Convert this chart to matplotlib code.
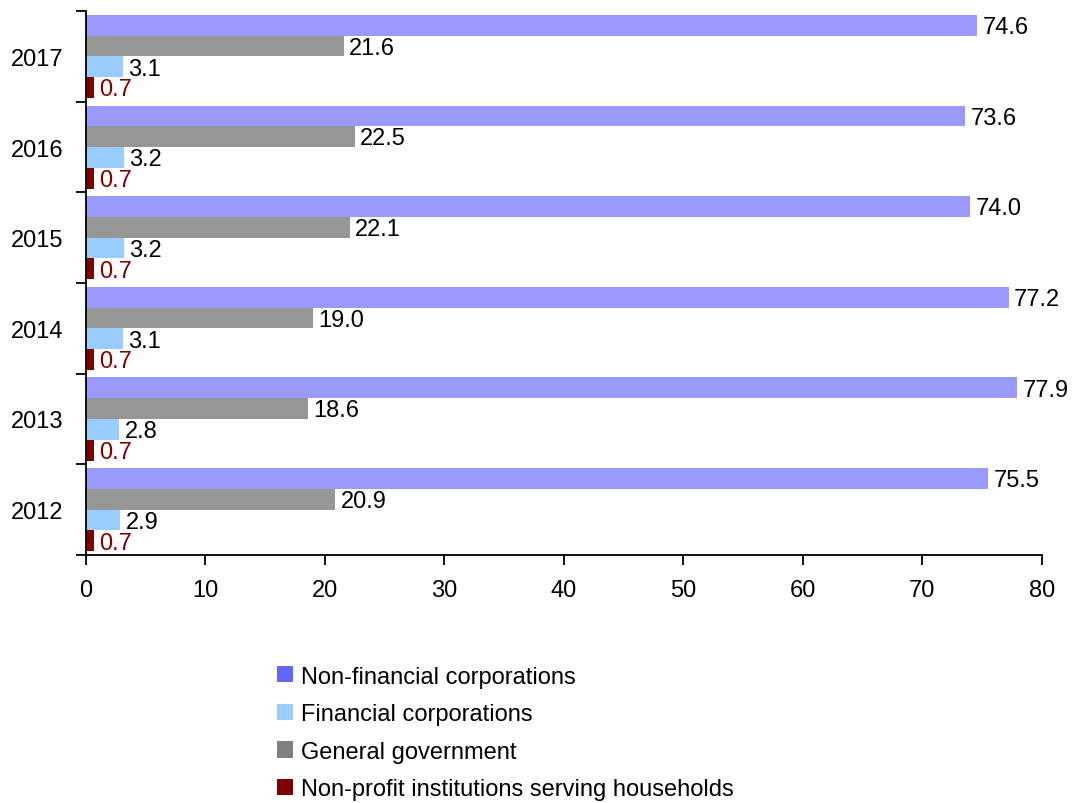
import matplotlib
matplotlib.use("Agg")
import matplotlib.pyplot as plt
from matplotlib.patches import Patch
import numpy as np

plt.rcParams['font.family'] = ['Liberation Sans', 'DejaVu Sans']

years = ["2012", "2013", "2014", "2015", "2016", "2017"]
series_names = ["Non-financial corporations", "General government",
                "Financial corporations", "Non-profit institutions serving households"]
nonfin = [75.5, 77.9, 77.2, 74.0, 73.6, 74.6]
gengov = [20.9, 18.6, 19.0, 22.1, 22.5, 21.6]
fincorp = [2.9, 2.8, 3.1, 3.2, 3.2, 3.1]
npish = [0.7, 0.7, 0.7, 0.7, 0.7, 0.7]

bar_colors = ["#9999FF", "#969696", "#99CCFF", "#800000"]
label_colors = ["black", "black", "black", "#800000"]
legend_order = [0, 2, 1, 3]
legend_colors = {0: "#6666FF", 1: "#808080", 2: "#99CCFF", 3: "#800000"}

FS = 17

fig = plt.figure(figsize=(10.72, 8.04), dpi=100)
ax = fig.add_axes([0.0798, 0.3085, 0.972 - 0.0798, 0.985 - 0.3085])

data = [nonfin, gengov, fincorp, npish]
y = np.arange(len(years))
h = 0.229
offsets = [1.5 * h, 0.5 * h, -0.5 * h, -1.5 * h]
for i, vals in enumerate(data):
    ax.barh(y + offsets[i], vals, height=h, color=bar_colors[i], linewidth=0)
    for yy, v in zip(y, vals):
        ax.text(v + 0.45, yy + offsets[i] - 0.02, f"{v:.1f}", va="center", ha="left",
                fontsize=FS, color=label_colors[i])

ax.set_xlim(0, 80)
ax.set_ylim(-0.5, 5.5)
ax.set_xticks(np.arange(0, 81, 10))
ax.set_yticks(np.arange(-0.5, 5.6, 1))
ax.set_yticklabels([])
ax.set_yticks(y, minor=True)
ax.set_yticklabels(years, minor=True)
ax.tick_params(axis="y", which="minor", length=0, pad=16, labelsize=FS)
ax.tick_params(axis="y", which="major", length=7, width=1.3, direction="out")
ax.tick_params(axis="x", length=7, width=1.3, direction="out", pad=10, labelsize=FS)
for s in ["top", "right"]:
    ax.spines[s].set_visible(False)
for s in ["left", "bottom"]:
    ax.spines[s].set_linewidth(1.3)

handles = [Patch(facecolor=legend_colors[i], edgecolor="none") for i in legend_order]
labels = [series_names[i] for i in legend_order]
fig.legend(handles, labels, loc="upper left", bbox_to_anchor=(0.258, 0.171),
           frameon=False, fontsize=FS, handlelength=0.68, handleheight=0.68,
           handletextpad=0.34, labelspacing=0.66, borderpad=0, borderaxespad=0)

fig.savefig("out.png", dpi=100)
